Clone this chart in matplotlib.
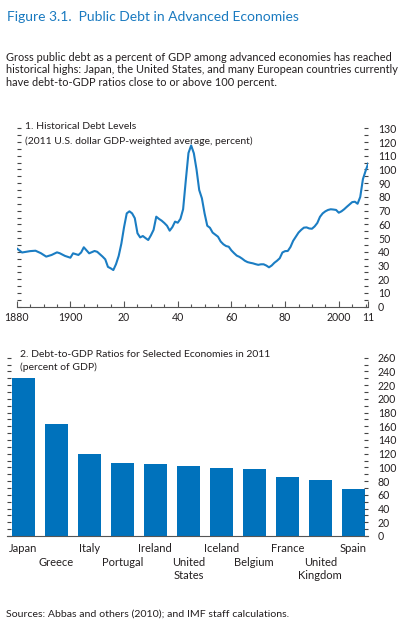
import matplotlib
matplotlib.use("Agg")
import matplotlib.pyplot as plt
from matplotlib.ticker import MultipleLocator, FixedLocator

plt.rcParams['font.family'] = ['Lato', 'DejaVu Sans']

# panel 1: historical debt levels (percent of GDP)
years = [1880, 1882, 1885, 1887, 1889, 1891, 1893, 1895, 1896, 1898,
         1900, 1901, 1903, 1904, 1905, 1907, 1909, 1910, 1912, 1913,
         1914, 1915, 1916, 1917, 1918, 1919, 1920, 1921, 1922, 1923,
         1924, 1925, 1926, 1927, 1928, 1929, 1930, 1931, 1932, 1933,
         1934, 1935, 1936, 1937, 1938, 1939, 1940, 1941, 1942, 1943,
         1944, 1945, 1946, 1947, 1948, 1949, 1950, 1951, 1952, 1953,
         1954, 1955, 1956, 1957, 1958, 1959, 1960, 1961, 1962, 1963,
         1964, 1965, 1966, 1967, 1968, 1969, 1970, 1971, 1972, 1973,
         1974, 1975, 1976, 1977, 1978, 1979, 1980, 1981, 1982, 1983,
         1984, 1985, 1986, 1987, 1988, 1989, 1990, 1991, 1992, 1993,
         1994, 1995, 1996, 1997, 1998, 1999, 2000, 2001, 2002, 2003,
         2004, 2005, 2006, 2007, 2008, 2009, 2010, 2011]
debt = [42.5, 39.5, 40.5, 40.8, 39.0, 36.5, 37.7, 39.6, 39.0, 37.0,
        35.7, 38.9, 37.7, 39.5, 43.3, 38.9, 40.6, 40.0, 36.5, 34.5,
        29.0, 28.0, 26.7, 31.0, 37.0, 46.0, 58.0, 68.0, 69.5, 68.0,
        64.5, 53.5, 50.5, 51.5, 50.0, 48.6, 52.0, 56.0, 65.6, 64.0,
        62.7, 61.0, 59.0, 55.4, 58.0, 62.0, 61.2, 64.0, 71.0, 92.0,
        112.0, 117.5, 111.8, 100.0, 85.0, 79.0, 68.0, 59.0, 57.5, 54.0,
        52.5, 51.0, 47.5, 45.5, 44.2, 43.7, 41.0, 39.0, 37.2, 36.3,
        35.0, 33.5, 32.5, 32.0, 31.6, 31.0, 30.5, 30.9, 30.9, 30.0,
        28.7, 30.0, 32.0, 33.5, 35.3, 39.5, 40.5, 40.6, 43.5, 48.0,
        51.0, 54.0, 56.0, 57.6, 57.8, 57.0, 56.8, 58.5, 61.0, 65.5,
        68.0, 69.5, 70.5, 71.0, 70.8, 70.5, 68.5, 69.5, 71.0, 72.8,
        74.5, 76.2, 76.5, 75.0, 80.0, 93.0, 99.0, 104.5]
year_ticks = [1880, 1900, 1920, 1940, 1960, 1980, 2000, 2011]
year_labels = ["1880", "1900", "20", "40", "60", "80", "2000", "11"]

# panel 2: debt-to-GDP ratios in 2011
countries = ["Japan", "Greece", "Italy", "Portugal", "Ireland", "United\nStates",
             "Iceland", "Belgium", "France", "United\nKingdom", "Spain"]
ratios = [230, 163, 120, 106.5, 105, 102, 99, 97.5, 86, 81, 68.5]

W, H = 409, 627
fig = plt.figure(figsize=(W / 100, H / 100), dpi=100)

def fx(px):
    return px / W

def fy(py):
    return 1 - py / H

blue = "#0072BC"
dark = "#231F20"

fig.text(fx(7), fy(20.7), "Figure 3.1.  Public Debt in Advanced Economies",
         color="#1A7AC0", fontsize=10.0, va="baseline")
para = ["Gross public debt as a percent of GDP among advanced economies has reached",
        "historical highs: Japan, the United States, and many European countries currently",
        "have debt-to-GDP ratios close to or above 100 percent."]
for i, line in enumerate(para):
    fig.text(fx(6.5), fy(60.7 + i * 12.7), line, fontsize=7.9, color=dark, va="baseline")

# ---- panel 1
ax1 = fig.add_axes([fx(16.7), fy(306.7), fx(368.3 - 16.7), (306.7 - 128.3) / H])
ax1.plot(years, debt, color="#1B7DC3", lw=1.5)
ax1.set_xlim(1880, 2011)
ax1.set_ylim(0, 130)
ax1.xaxis.set_major_locator(FixedLocator(year_ticks))
ax1.set_xticklabels(year_labels)
ax1.xaxis.set_minor_locator(MultipleLocator(5))
ax1.yaxis.set_major_locator(MultipleLocator(10))
ax1.yaxis.set_minor_locator(MultipleLocator(5))

fig.text(fx(25), fy(129.3), "1. Historical Debt Levels", fontsize=7.5, color=dark, va="baseline")
fig.text(fx(25), fy(144), "(2011 U.S. dollar GDP-weighted average, percent)", fontsize=7.5,
         color=dark, va="baseline")

# ---- panel 2
ax2 = fig.add_axes([fx(7), fy(536), fx(368 - 7), (536 - 357.7) / H])
x = list(range(len(countries)))
ax2.bar(x, ratios, width=0.7, color=blue)
ax2.set_xlim(-0.5, 10.45)
ax2.set_ylim(0, 260)
ax2.set_xticks(x)
ax2.set_xticklabels(countries)
ax2.yaxis.set_major_locator(MultipleLocator(20))
ax2.yaxis.set_minor_locator(MultipleLocator(10))

fig.text(fx(20), fy(356.7), "2. Debt-to-GDP Ratios for Selected Economies in 2011",
         fontsize=7.5, color=dark, va="baseline")
fig.text(fx(20), fy(369.5), "(percent of GDP)", fontsize=7.5, color=dark, va="baseline")

for ax in (ax1, ax2):
    for s in ("top", "left", "right"):
        ax.spines[s].set_visible(False)
    ax.spines["bottom"].set_color("#555555")
    ax.spines["bottom"].set_linewidth(0.8)
    ax.tick_params(axis="y", which="both", left=True, right=True, labelleft=False,
                   labelright=True, direction="in", length=3, width=0.8,
                   color="#444444", labelsize=7.6, labelcolor=dark, pad=7)
    ax.tick_params(axis="x", labelsize=7.6, labelcolor=dark)

ax1.tick_params(axis="x", which="major", direction="in", length=4, width=0.8,
                color="#555555", pad=4)
ax1.tick_params(axis="x", which="minor", direction="in", length=2, width=0.8,
                color="#555555")
ax2.tick_params(axis="x", which="both", length=0, pad=5, labelsize=8)
# stagger every other country label onto a second row
for i, tick in enumerate(ax2.xaxis.get_major_ticks()):
    if i % 2 == 1:
        tick.set_pad(15)
for lab in ax2.get_xticklabels():
    lab.set_linespacing(1.2)

fig.text(fx(6), fy(616.7), "Sources: Abbas and others (2010); and IMF staff calculations.",
         fontsize=7.55, color=dark, va="baseline")

fig.savefig("out.png", dpi=100)
